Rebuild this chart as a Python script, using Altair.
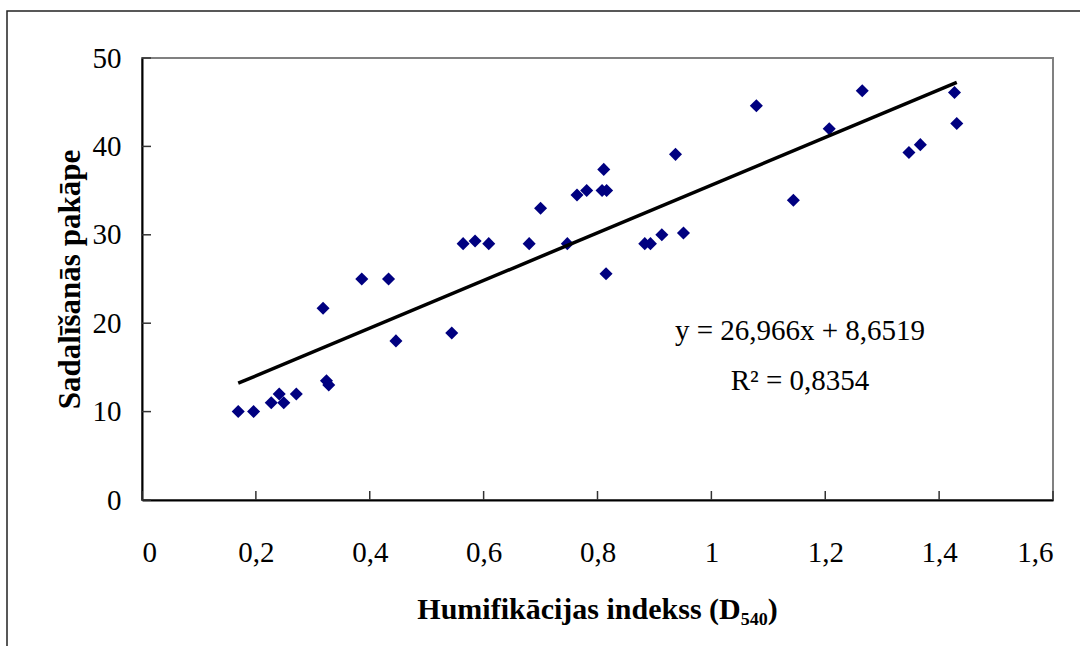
import altair as alt
import pandas as pd

# Humification index (D540) and degree of decomposition for each peat sample
hum_index = [0.169, 0.196, 0.227, 0.241, 0.249, 0.271, 0.318, 0.324, 0.328, 0.386,
             0.433, 0.446, 0.544, 0.564, 0.585, 0.609, 0.680, 0.700, 0.747, 0.764,
             0.781, 0.808, 0.811, 0.815, 0.816, 0.883, 0.893, 0.913, 0.937, 0.951,
             1.079, 1.144, 1.207, 1.265, 1.347, 1.367, 1.427, 1.431]
decomposition = [10, 10, 11, 12, 11, 12, 21.7, 13.5, 13, 25,
                 25, 18, 18.9, 29, 29.3, 29, 29, 33, 29, 34.5,
                 35, 35, 37.4, 25.6, 35, 29, 29, 30, 39.1, 30.2,
                 44.6, 33.9, 42, 46.3, 39.3, 40.2, 46.1, 42.6]

x_ticks = [0, 0.2, 0.4, 0.6, 0.8, 1.0, 1.2, 1.4, 1.6]
y_ticks = [0, 10, 20, 30, 40, 50]

# Linear trend line parameters
slope = 26.966
intercept = 8.6519
r_squared = 0.8354

FONT = "Liberation Serif"

points = pd.DataFrame({"x": hum_index, "y": decomposition})
x_lo, x_hi = min(hum_index), max(hum_index)
trend = pd.DataFrame({"x": [x_lo, x_hi],
                      "y": [slope * x_lo + intercept, slope * x_hi + intercept]})
x_marks = pd.DataFrame({"x": x_ticks})
y_marks = pd.DataFrame({"y": y_ticks})


def lv(v):
    return f"{v}".replace(".", ",")


eq_text = f"y = {lv(slope)}x + {lv(intercept)}\nR² = {lv(r_squared)}"

xs = alt.Scale(domain=[0, 1.6], nice=False, zero=False)
ys = alt.Scale(domain=[0, 50], nice=False, zero=False)

x_axis = alt.Axis(
    values=x_ticks, ticks=False, tickSize=0, grid=False,
    labelExpr="replace(format(datum.value, '.1~f'), '.', ',')",
    labelPadding=38, labelBaseline="top",
    title="Humifikācijas indekss (D₅₄₀)",
    titleX=455, titleY=118, titleBaseline="alphabetic", titleAlign="center",
    titleFontSize=30,
)
y_axis = alt.Axis(
    values=y_ticks, ticks=False, tickSize=0, grid=False,
    labelPadding=21, labelAlign="right", labelBaseline="middle",
    title="Sadalīšanās pakāpe",
    titleAngle=270, titleX=-63, titleY=221, titleBaseline="alphabetic",
    titleAlign="center", titleFontSize=31,
)

X = alt.X("x:Q", scale=xs, axis=x_axis)
Y = alt.Y("y:Q", scale=ys, axis=y_axis)

scatter = alt.Chart(points).mark_point(
    shape="diamond", filled=True, size=170, color="#000080", opacity=1
).encode(x=X, y=Y)

trend_line = alt.Chart(trend).mark_line(color="black", strokeWidth=3.5).encode(x=X, y=Y)

# inward tick marks on both axes
x_tick_marks = alt.Chart(x_marks).mark_rule(color="#333333", strokeWidth=1.5).encode(
    x=X, y=alt.value(433), y2=alt.value(442),
)
y_tick_marks = alt.Chart(y_marks).mark_rule(color="#333333", strokeWidth=1.5).encode(
    y=Y, x=alt.value(0), x2=alt.value(9),
)

equation = alt.Chart(pd.DataFrame({"t": [eq_text]})).mark_text(
    align="center", baseline="alphabetic", font=FONT, fontSize=29,
    lineHeight=50, lineBreak="\n", color="black"
).encode(
    x=alt.value(658), y=alt.value(282), text="t:N",
)

frame = alt.Chart(pd.DataFrame({"f": [0]})).mark_rect(
    filled=False, stroke="#222222", strokeWidth=1.5
).encode(
    x=alt.value(-135), x2=alt.value(960),
    y=alt.value(-47), y2=alt.value(640),
)

chart = alt.layer(
    frame, scatter, trend_line, x_tick_marks, y_tick_marks, equation
).properties(
    width=911, height=442,
    padding={"left": 142, "top": 58, "right": 27, "bottom": 146},
    autosize=alt.AutoSizeParams(type="none"),
    background="white",
).configure_view(
    stroke="#808080", strokeWidth=2
).configure_axis(
    domainColor="black", domainWidth=2,
    labelFont=FONT, labelFontSize=29, labelColor="black",
    titleFont=FONT, titleFontWeight="bold", titleColor="black",
)

chart.save("out.html", embed_options={"renderer": "svg", "actions": False})
